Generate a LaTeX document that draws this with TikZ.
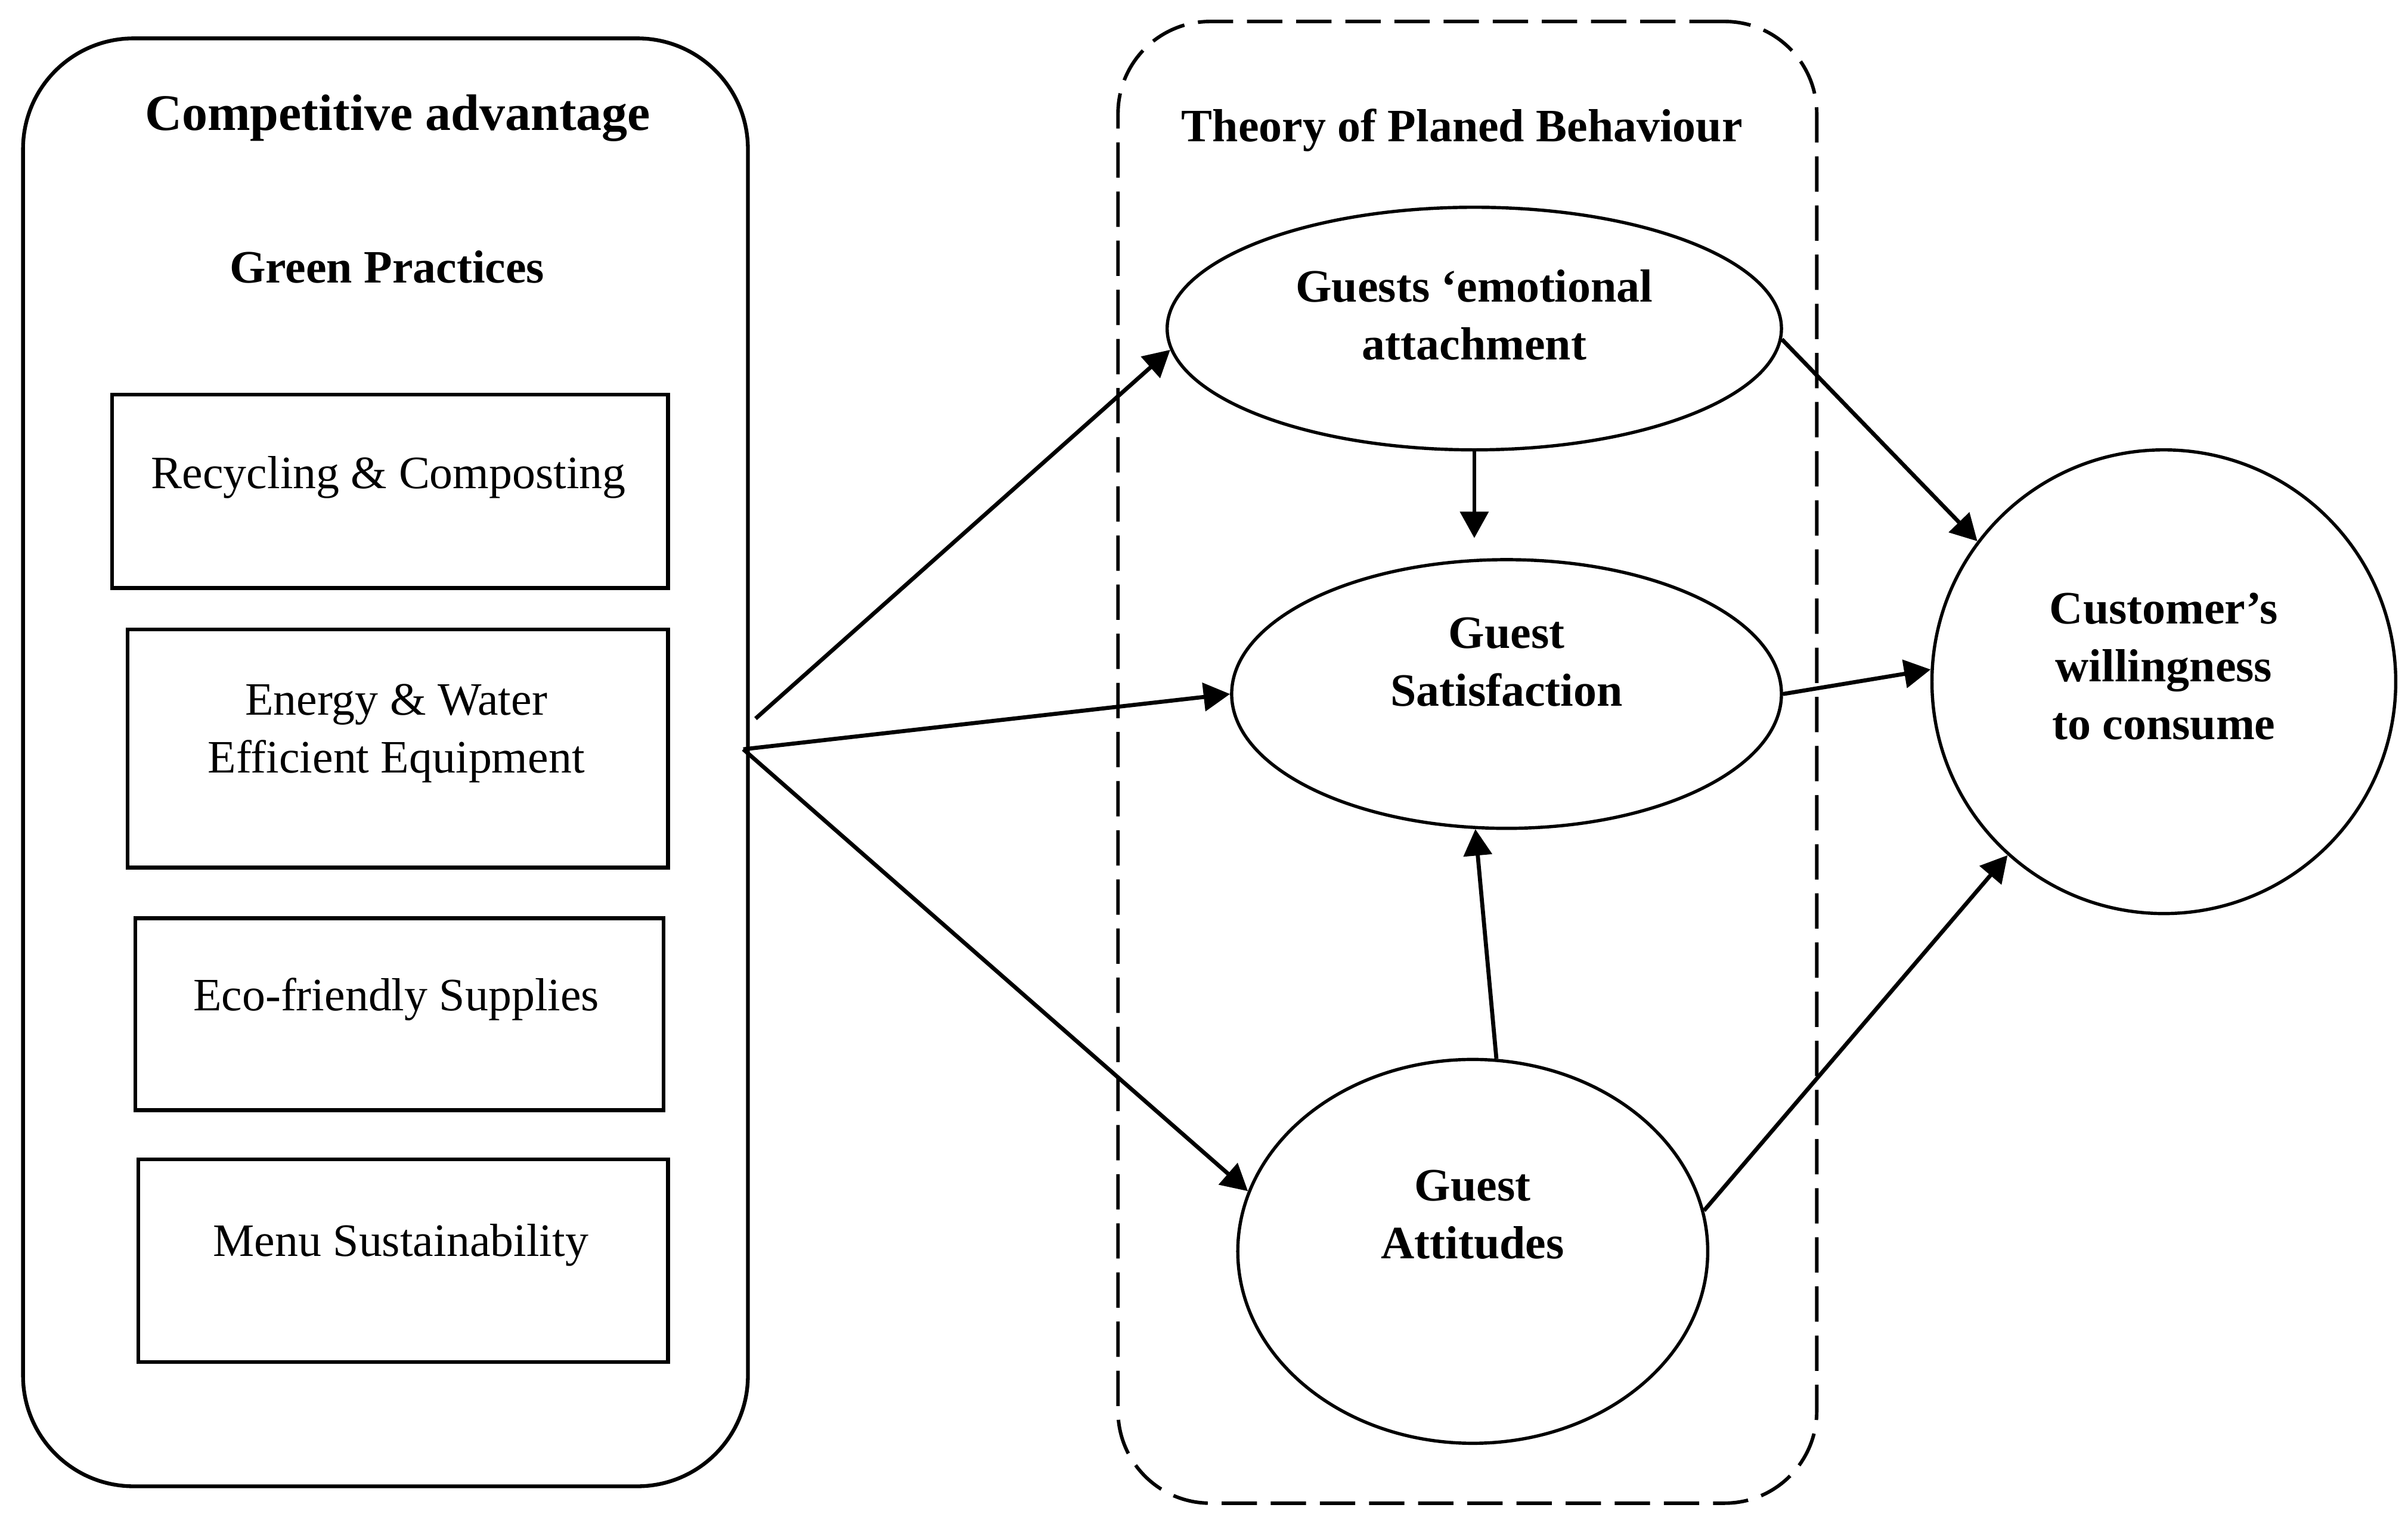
\documentclass[tikz,border=0pt]{standalone}
\usepackage{fontspec}
\setmainfont{Liberation Serif}
\usepackage{tikz}
\usetikzlibrary{shapes.geometric, arrows.meta}
\newcommand{\txtsize}{\fontsize{8.6pt}{10.7pt}\selectfont}
\tikzset{
  gpbox/.style={draw, line width=0.7pt, inner sep=0pt},
  construct/.style={draw, ellipse, line width=0.6pt, inner sep=0pt},
  lbl/.style={align=center, inner sep=0pt, font=\txtsize},
  blbl/.style={lbl, font=\txtsize\bfseries},
  link/.style={-{Triangle[length=4.9pt, width=5.2pt]}, line width=0.75pt}
}

\begin{document}
\begin{tikzpicture}%Green practices model
\useasboundingbox (0,0) rectangle (15.68,-9.88);
% left frame
\node [gpbox, rounded corners=0.72cm, minimum width=4.72cm, minimum height=9.43cm] (cabox) at (2.51,-4.965) {};
  \node [blbl, font=\fontsize{9.5pt}{11pt}\selectfont\bfseries] (catitle) at (2.59,-0.77) {Competitive advantage};
  \node [blbl] (gptitle) at (2.52,-1.74) {Green Practices};
% practices
\node [gpbox, minimum width=3.62cm, minimum height=1.26cm] (recyc) at (2.54,-3.20) {};
  \node [lbl] (recyc-txt) at (2.53,-3.11) {Recycling \& Composting};
\node [gpbox, minimum width=3.52cm, minimum height=1.55cm] (energy) at (2.59,-4.875) {};
  \node [lbl] (energy-txt) at (2.58,-4.775) {Energy \& Water\\Efficient Equipment};
\node [gpbox, minimum width=3.44cm, minimum height=1.25cm] (supply) at (2.60,-6.605) {};
  \node [lbl] (supply-txt) at (2.58,-6.51) {Eco-friendly Supplies};
\node [gpbox, minimum width=3.45cm, minimum height=1.32cm] (menu) at (2.625,-8.21) {};
  \node [lbl] (menu-txt) at (2.61,-8.11) {Menu Sustainability};
% theory of planned behaviour
\node [draw, dash pattern=on 0.23cm off 0.09cm, line width=0.65pt, rounded corners=0.6cm, minimum width=4.55cm, minimum height=9.65cm] (tpb) at (9.555,-4.965) {};
  \node [blbl] (tpbtitle) at (9.52,-0.85) {Theory of Planed Behaviour};
\node [construct, minimum width=4.00cm, minimum height=1.58cm] (emo) at (9.60,-2.14) {};
  \node [blbl] (emo-txt) at (9.60,-2.05) {Guests ‘emotional\\attachment};
\node [construct, minimum width=3.58cm, minimum height=1.75cm] (sat) at (9.81,-4.52) {};
  \node [blbl] (sat-txt) at (9.81,-4.31) {Guest\\Satisfaction};
\node [construct, minimum width=3.06cm, minimum height=2.50cm] (att) at (9.59,-8.15) {};
  \node [blbl] (att-txt) at (9.59,-7.91) {Guest\\Attitudes};
% outcome
\node [construct, circle, minimum size=3.02cm] (wil) at (14.09,-4.44) {};
  \node [blbl] (wil-txt) at (14.09,-4.34) {Customer’s\\willingness\\to consume};
% links
\coordinate (gp1) at (4.92,-4.68);
\coordinate (gp2) at (4.84,-4.88);
\draw [link] (gp1) -- (emo.184);
\draw [link] (gp2) -- (sat.180);
\draw [link] (gp2) -- (att.165);
\draw [link, shorten >=0.13cm] (emo.south) -- (emo.south |- sat.north);
\draw [link] (att.83) -- (sat.257);
\draw [link] (emo.-2) -- (wil.143);
\draw [link] (sat.east) -- (wil.177);
\draw [link] (att.10) -- (wil.228);
\end{tikzpicture}
\end{document}
